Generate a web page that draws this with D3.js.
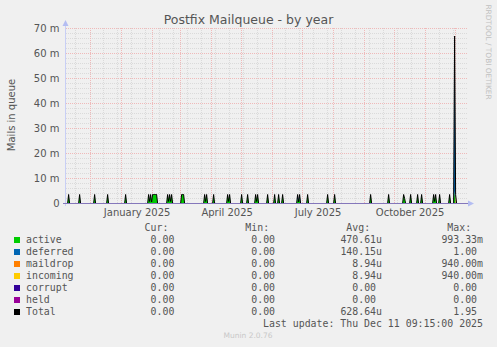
<!DOCTYPE html>
<html><head><meta charset="utf-8">
<script src="https://cdn.jsdelivr.net/npm/d3@7"></script>
<style>
html,body{margin:0;padding:0;background:#F0F0F0;}
svg{display:block;}
</style></head><body>
<svg id="chart" width="497" height="347"></svg>
<script>
// ---------- data ----------
const chartTitle = "Postfix Mailqueue - by year";
const yAxisTitle = "Mails in queue";
const watermark = "RRDTOOL / TOBI OETIKER";
const footer = "Munin 2.0.76";
const lastUpdate = "Last update: Thu Dec 11 09:15:00 2025";

const yTickValues = [0, 0.01, 0.02, 0.03, 0.04, 0.05, 0.06, 0.07];
const yTickLabels = ["0", "10 m", "20 m", "30 m", "40 m", "50 m", "60 m", "70 m"];
const xTickDates = ["2025-01-16", "2025-04-16", "2025-07-16", "2025-10-16"];
const xTickLabels = ["January 2025", "April 2025", "July 2025", "October 2025"];

const seriesNames = ["active", "deferred", "maildrop", "incoming", "corrupt", "held"];
const seriesColors = ["#00CC00", "#0066B3", "#FF8000", "#FFCC00", "#330099", "#990099"];
const legendNames = ["active", "deferred", "maildrop", "incoming", "corrupt", "held", "Total"];
const legendColors = ["#00CC00", "#0066B3", "#FF8000", "#FFCC00", "#330099", "#990099", "#000000"];
const legendHeaders = ["Cur:", "Min:", "Avg:", "Max:"];
const curVals = ["0.00", "0.00", "0.00", "0.00", "0.00", "0.00", "0.00"];
const minVals = ["0.00", "0.00", "0.00", "0.00", "0.00", "0.00", "0.00"];
const avgVals = ["470.61u", "140.15u", "8.94u", "8.94u", "0.00", "0.00", "628.64u"];
const maxVals = ["993.33m", "1.00", "940.00m", "940.00m", "0.00", "0.00", "1.95"];

// daily averages (only non-zero days listed)
const activeDays = ["2024-11-09","2024-11-20","2024-12-05","2024-12-18","2025-01-05",
  "2025-01-28","2025-01-29","2025-01-30","2025-01-31","2025-02-01","2025-02-02","2025-02-03","2025-02-04","2025-02-05",
  "2025-02-16","2025-02-17","2025-02-18","2025-02-19","2025-02-20",
  "2025-03-02","2025-03-03","2025-03-04",
  "2025-03-25","2025-03-26","2025-03-27","2025-04-03",
  "2025-04-17","2025-04-18","2025-04-19","2025-05-01","2025-05-07",
  "2025-05-15","2025-05-16","2025-05-17","2025-05-27",
  "2025-06-03","2025-06-07","2025-06-11",
  "2025-06-26","2025-06-27","2025-06-28","2025-07-06","2025-07-26","2025-08-02",
  "2025-09-07","2025-09-25","2025-10-10","2025-10-11","2025-10-17","2025-10-24","2025-10-28",
  "2025-11-09","2025-11-10","2025-11-11","2025-11-15","2025-11-25","2025-11-30"];
const activeVals = [0.0036,0.0036,0.0036,0.0036,0.0036,
  0.0036,0.0008,0.0036,0.0006,0.0036,0.0036,0.0036,0.0036,0.0036,
  0.0036,0.0008,0.0036,0.0008,0.0036,
  0.0036,0.0036,0.0036,
  0.0036,0.0008,0.0036,0.0036,
  0.0036,0.0008,0.0036,0.0036,0.0036,
  0.0036,0.0008,0.0036,0.0036,
  0.0036,0.0036,0.0036,
  0.0020,0.0006,0.0024,0.0036,0.0036,0.0036,
  0.0036,0.0036,0.0036,0.0020,0.0036,0.0036,0.0036,
  0.0036,0.0008,0.0036,0.0036,0.0036,0.0050];
const deferredDays = ["2025-06-26", "2025-06-28", "2025-11-30"];
const deferredVals = [0.0016, 0.0012, 0.0620];
const maildropDays = ["2025-12-01"];
const maildropVals = [0.0018];
const incomingDays = ["2025-12-01"];
const incomingVals = [0.0018];
const corruptDays = [];
const corruptVals = [];
const heldDays = [];
const heldVals = [];

// ---------- layout ----------
const svg = d3.select("#chart");
const W = 497, H = 347;
const plotL = 66, plotR = 466, plotT = 28, plotB = 203;
const endTime = new Date(Date.UTC(2025, 11, 11, 9, 15));
const startTime = new Date(endTime.getTime() - 400 * 86400000);
const fontSans = "'DejaVu Sans', sans-serif";
const fontMono = "'DejaVu Sans Mono', monospace";
const textCol = "#555555";

const x = d3.scaleUtc().domain([startTime, endTime]).range([plotL, plotR]);
const y = d3.scaleLinear().domain([0, 0.07]).range([plotB + 0.5, plotT + 0.5]);
const parse = d3.utcParse("%Y-%m-%d");

svg.append("rect").attr("width", W).attr("height", H).attr("fill", "#F0F0F0");

// ---------- build daily series ----------
const lists = [[activeDays, activeVals], [deferredDays, deferredVals], [maildropDays, maildropVals],
  [incomingDays, incomingVals], [corruptDays, corruptVals], [heldDays, heldVals]];
const maps = lists.map(([ds, vs]) => new Map(ds.map((d, i) => [d, vs[i]])));
const fmt = d3.utcFormat("%Y-%m-%d");
const days = d3.utcDay.range(d3.utcDay.floor(startTime), d3.utcDay.offset(d3.utcDay.floor(endTime), 1));
const table = days.map(d => {
  const k = fmt(d);
  const row = {date: d};
  seriesNames.forEach((n, i) => row[n] = maps[i].get(k) || 0);
  row.total = seriesNames.reduce((s, n) => s + row[n], 0);
  return row;
});

// ---------- grid ----------
const minorCol = "#dadada", majorCol = "#efb9b9";
const grid = svg.append("g");
const minorY = d3.range(0, 71, 2).filter(v => v % 10 !== 0).map(v => v / 1000);
grid.selectAll("line.hmin").data(minorY).join("line")
  .attr("x1", plotL).attr("x2", plotR + 1)
  .attr("y1", d => y(d)).attr("y2", d => y(d))
  .attr("stroke", minorCol).attr("stroke-dasharray", "1,1");
const monthStarts = d3.utcMonth.range(d3.utcMonth.ceil(startTime), endTime);
const minorDates = [];
for (let d = new Date(Date.UTC(2024, 10, 16)); d < endTime; d = d3.utcDay.offset(d, 14)) minorDates.push(d);
const minorX = minorDates.map(d => Math.floor(x(d)) + 0.5)
  .filter(px => !monthStarts.some(m => Math.abs(Math.floor(x(m)) + 0.5 - px) < 2));
grid.selectAll("line.vmin").data(minorX).join("line")
  .attr("x1", d => d).attr("x2", d => d)
  .attr("y1", plotT).attr("y2", plotB)
  .attr("stroke", minorCol).attr("stroke-dasharray", "1,1");
grid.selectAll("line.hmaj").data(yTickValues.slice(1)).join("line")
  .attr("x1", plotL).attr("x2", plotR + 1)
  .attr("y1", d => y(d)).attr("y2", d => y(d))
  .attr("stroke", majorCol).attr("stroke-dasharray", "1,1");
grid.selectAll("line.vmaj").data(monthStarts).join("line")
  .attr("x1", d => Math.floor(x(d)) + 0.5).attr("x2", d => Math.floor(x(d)) + 0.5)
  .attr("y1", plotT).attr("y2", plotB)
  .attr("stroke", majorCol).attr("stroke-dasharray", "1,1");

// ---------- areas ----------
svg.append("clipPath").attr("id", "clip").append("rect")
  .attr("x", plotL).attr("y", 0).attr("width", plotR - plotL).attr("height", plotB + 1);
const stack = d3.stack().keys(seriesNames)(table);
const area = d3.area().x(d => x(d.data.date)).y0(d => y(d[0])).y1(d => y(d[1]));
const plot = svg.append("g").attr("clip-path", "url(#clip)");
plot.selectAll("path.layer").data(stack).join("path")
  .attr("d", area).attr("fill", (d, i) => seriesColors[i]);
const line = d3.line().x(d => x(d.date)).y(d => y(d.total));
plot.append("path").datum(table).attr("d", line)
  .attr("fill", "none").attr("stroke", "#000").attr("stroke-width", 1);

// ---------- axes ----------
const axisCol = "#c8cff5";
svg.append("line").attr("x1", plotL - 0.5).attr("x2", plotL - 0.5)
  .attr("y1", plotB + 3).attr("y2", plotT - 4).attr("stroke", axisCol);
svg.append("line").attr("x1", plotL - 3).attr("x2", plotR + 4)
  .attr("y1", plotB + 0.5).attr("y2", plotB + 0.5).attr("stroke", "#8577bb");
svg.append("path").attr("d", `M${plotL - 3.5},${plotT - 2} L${plotL - 0.5},${plotT - 8} L${plotL + 2.5},${plotT - 2} Z`)
  .attr("fill", "#b4bdf2");
svg.append("path").attr("d", `M${plotR + 2},${plotB - 2.5} L${plotR + 8},${plotB + 0.5} L${plotR + 2},${plotB + 3.5} Z`)
  .attr("fill", "#b4bdf2");

const yAxis = svg.append("g").attr("transform", `translate(${plotL - 0.5},0)`)
  .call(d3.axisLeft(y).tickValues(yTickValues).tickFormat((d, i) => yTickLabels[i]).tickSize(0).tickPadding(6));
yAxis.select(".domain").remove();
yAxis.selectAll("text").attr("font-family", fontSans).attr("font-size", "10px").attr("fill", textCol);

const xAxis = svg.append("g").attr("transform", `translate(0,${plotB})`)
  .call(d3.axisBottom(x).tickValues(xTickDates.map(parse)).tickFormat((d, i) => xTickLabels[i]).tickSize(0).tickPadding(5.5));
xAxis.select(".domain").remove();
xAxis.selectAll("text").attr("font-family", fontSans).attr("font-size", "10px").attr("fill", textCol);

// ---------- titles ----------
svg.append("text").attr("x", 248.5).attr("y", 23.5).attr("text-anchor", "middle")
  .attr("font-family", fontSans).attr("font-size", "12.5px").attr("fill", textCol).text(chartTitle);
svg.append("text").attr("transform", "translate(14.5,115) rotate(-90)").attr("text-anchor", "middle")
  .attr("font-family", fontSans).attr("font-size", "10px").attr("fill", textCol).text(yAxisTitle);
svg.append("text").attr("transform", "translate(485.5,52) rotate(90)").attr("text-anchor", "middle")
  .attr("font-family", fontSans).attr("font-size", "7.4px").attr("fill", "#c0c0c0").text(watermark);

// ---------- legend ----------
const leg = svg.append("g").attr("font-family", fontMono).attr("font-size", "9.9px").attr("fill", textCol);
const charW = 5.96;
const colRight = [180.3, 281, 382, 483];
const cols = [curVals, minVals, avgVals, maxVals];
legendHeaders.forEach((h, c) => {
  leg.append("text").attr("x", colRight[c] - 2 * charW).attr("y", 231).attr("text-anchor", "end").text(h);
});
legendNames.forEach((n, i) => {
  const by = 243 + i * 12;
  leg.append("rect").attr("x", 14).attr("y", by - 6).attr("width", 6).attr("height", 6).attr("fill", legendColors[i]);
  leg.append("text").attr("x", 26).attr("y", by).text(n);
  cols.forEach((vals, c) => {
    const v = vals[i];
    const hasUnit = /[a-zA-Z]$/.test(v);
    leg.append("text").attr("x", colRight[c] - (hasUnit ? 0 : charW)).attr("y", by)
      .attr("text-anchor", "end").text(v);
  });
});
leg.append("text").attr("x", 483).attr("y", 327).attr("text-anchor", "end").text(lastUpdate);
svg.append("text").attr("x", 248).attr("y", 338).attr("text-anchor", "middle")
  .attr("font-family", fontSans).attr("font-size", "7.5px").attr("fill", "#c8c8c8").text(footer);
</script>
</body></html>
